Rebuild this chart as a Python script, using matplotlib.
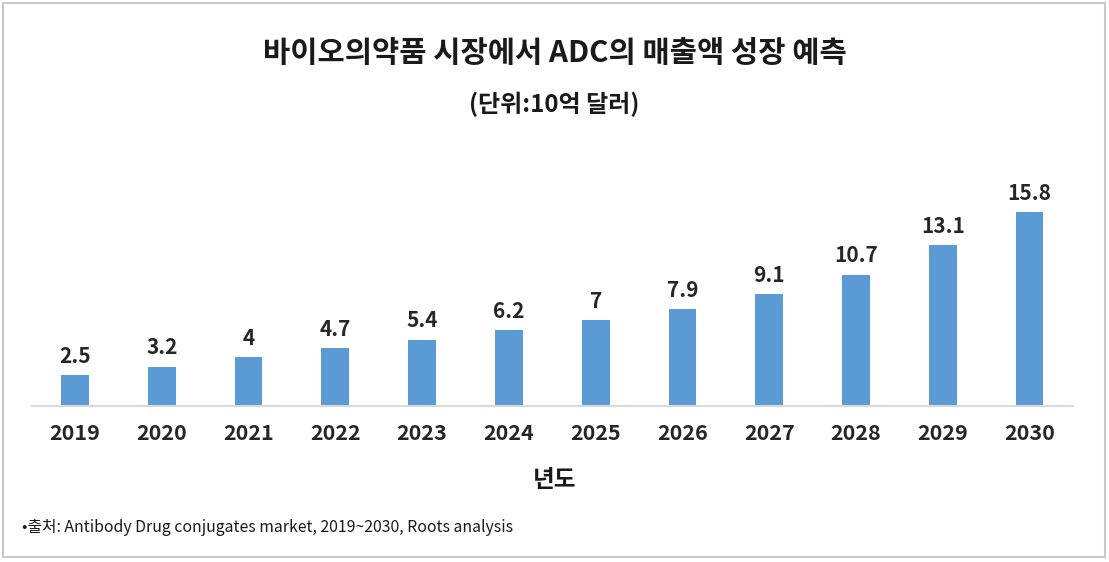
import matplotlib
matplotlib.use('Agg')
import matplotlib.pyplot as plt
from matplotlib.patches import Rectangle

plt.rcParams['font.family'] = ['Noto Sans CJK KR', 'DejaVu Sans']

# 데이터
years = ['2019', '2020', '2021', '2022', '2023', '2024',
         '2025', '2026', '2027', '2028', '2029', '2030']
sales = [2.5, 3.2, 4, 4.7, 5.4, 6.2, 7, 7.9, 9.1, 10.7, 13.1, 15.8]

W, H = 1109, 562
fig = plt.figure(figsize=(W / 100, H / 100), dpi=100)

# 회색 테두리
fig.patches.append(Rectangle((3 / W, 1 - 557 / H), 1102 / W, 554 / H,
                             transform=fig.transFigure, fill=False,
                             edgecolor='#C8C8C8', linewidth=1.5))

ax = fig.add_axes([31.6 / W, 1 - 406 / H, 1041.4 / W, 208.8 / H])
x = range(len(years))
bars = ax.bar(x, sales, width=0.32, color='#5B9BD5')

for bar, v in zip(bars, sales):
    ax.annotate(f'{v:g}', (bar.get_x() + bar.get_width() / 2, v),
                xytext=(0, 6), textcoords='offset points',
                ha='center', va='bottom', fontsize=15, fontweight='bold',
                color='#262626')

ax.set_xlim(-0.5, 11.5)
ax.set_ylim(0, 17)
ax.set_xticks(list(x))
ax.set_xticklabels(years, fontsize=15.5, fontweight='bold', color='#262626')
ax.tick_params(axis='x', length=0, pad=12)
ax.set_yticks([])
for s in ['top', 'right', 'left']:
    ax.spines[s].set_visible(False)
ax.spines['bottom'].set_color('#D9D9D9')
ax.spines['bottom'].set_linewidth(1.5)

fig.text(0.5, 1 - 53 / H, '바이오의약품 시장에서 ADC의 매출액 성장 예측',
         ha='center', va='center', fontsize=21.3, fontweight='bold', color='#1a1a1a')
fig.text(0.5, 1 - 104 / H, '(단위:10억 달러)',
         ha='center', va='center', fontsize=17.3, fontweight='bold', color='#1a1a1a')
fig.text(0.5, 1 - 480 / H, '년도',
         ha='center', va='center', fontsize=17, fontweight='bold', color='#1a1a1a')
fig.text(22 / W, 1 - 528 / H,
         '•출처: Antibody Drug conjugates market, 2019~2030, Roots analysis',
         ha='left', va='center', fontsize=11.4, color='#1a1a1a')

fig.savefig('out.png', dpi=100)
